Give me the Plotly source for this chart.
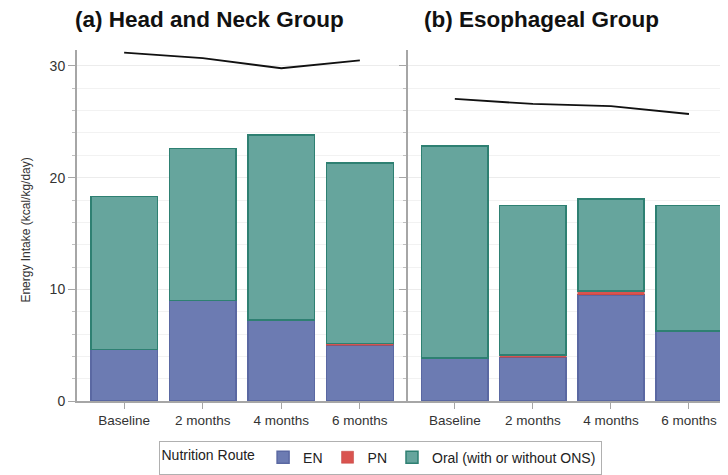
import plotly.graph_objects as go

categories = ["Baseline", "2 months", "4 months", "6 months"]

# (a) Head and Neck Group
hn_en = [4.6, 9.0, 7.25, 5.0]
hn_pn = [0.0, 0.0, 0.0, 0.15]
hn_oral = [13.7, 13.6, 16.55, 16.15]
hn_line = [31.2, 30.7, 29.8, 30.5]

# (b) Esophageal Group
es_en = [3.8, 3.9, 9.5, 6.25]
es_pn = [0.05, 0.22, 0.35, 0.0]
es_oral = [19.0, 13.38, 8.25, 11.25]
es_line = [27.05, 26.6, 26.4, 25.7]

EN_C, EN_L = "#6c7bb2", "#5a68a2"
PN_C, PN_L = "#d9534f", "#c0403c"
OR_C, OR_L = "#66a59d", "#2e8072"
FONT = "Liberation Sans, Arial, sans-serif"

fig = go.Figure()

def add_panel(en, pn, oral, line, xa, ya, show):
    fig.add_trace(go.Bar(x=categories, y=en, name="EN", marker=dict(color=EN_C, line=dict(color=EN_L, width=1.5)),
                         width=0.85, xaxis=xa, yaxis=ya, showlegend=show, legendgroup="EN"))
    fig.add_trace(go.Bar(x=categories, y=pn, name="PN", marker=dict(color=PN_C, line=dict(color=PN_L, width=0.5)),
                         width=0.85, xaxis=xa, yaxis=ya, showlegend=show, legendgroup="PN"))
    fig.add_trace(go.Bar(x=categories, y=oral, name="Oral (with or without ONS)",
                         marker=dict(color=OR_C, line=dict(color=OR_L, width=1.5)),
                         width=0.85, xaxis=xa, yaxis=ya, showlegend=show, legendgroup="OR"))
    fig.add_trace(go.Scatter(x=categories, y=line, mode="lines", line=dict(color="#111111", width=1.8),
                             xaxis=xa, yaxis=ya, showlegend=False, hoverinfo="skip"))

add_panel(hn_en, hn_pn, hn_oral, hn_line, "x", "y", True)
add_panel(es_en, es_pn, es_oral, es_line, "x2", "y2", False)

# page body has an 8px margin, so the figure is drawn at (8, 8)
W, H = 720, 467
ydom = [(H - 399) / H, (H - 43) / H]
xtickfont = dict(family=FONT, size=13.5, color="#333333")
ytickfont = dict(family=FONT, size=14, color="#333333")
xcommon = dict(type="category", showline=True, linecolor="#a6a6a6", linewidth=1.5,
               ticks="outside", ticklen=6, tickcolor="#a6a6a6", tickfont=xtickfont,
               showgrid=False, zeroline=False, automargin=False)
ycommon = dict(range=[0, 31.4], tickvals=[0, 10, 20, 30], showline=True, linecolor="#a6a6a6",
               linewidth=2, ticks="outside", ticklen=7, tickcolor="#a6a6a6", tickfont=ytickfont,
               showgrid=True, gridcolor="#ececec", gridwidth=1, zeroline=False, automargin=False,
               minor=dict(dtick=2, showgrid=True, gridcolor="#f2f2f2", ticks="outside", ticklen=3,
                          tickcolor="#c0c0c0"))

fig.update_layout(
    width=W, height=H,
    margin=dict(l=0, r=0, t=0, b=0),
    paper_bgcolor="white", plot_bgcolor="white",
    barmode="stack",
    xaxis=dict(domain=[69 / W, 399 / W], range=[-0.6, 3.6], anchor="y", **xcommon),
    xaxis2=dict(domain=[400 / W, 1.0], range=[-0.6, 3.5], anchor="y2", **xcommon),
    yaxis=dict(domain=ydom, anchor="x", **ycommon),
    yaxis2=dict(domain=ydom, anchor="x2", matches="y", showticklabels=False, **ycommon),
    legend=dict(orientation="h", x=372 / W, y=(H - 456.5) / H, xanchor="center", yanchor="middle",
                bordercolor="#b0b0b0", borderwidth=1,
                font=dict(family=FONT, size=14, color="#222222"),
                title=dict(text="Nutrition Route", font=dict(family=FONT, size=14, color="#222222")),
                itemwidth=30, traceorder="normal"),
    annotations=[
        dict(text="<b>(a) Head and Neck Group</b>", x=201 / W, y=(H - 12) / H, xref="paper", yref="paper",
             showarrow=False, xanchor="center", yanchor="middle",
             font=dict(family=FONT, size=22.5, color="#111111")),
        dict(text="<b>(b) Esophageal Group</b>", x=533 / W, y=(H - 12) / H, xref="paper", yref="paper",
             showarrow=False, xanchor="center", yanchor="middle",
             font=dict(family=FONT, size=22.5, color="#111111")),
        dict(text="Energy Intake (kcal/kg/day)", x=18 / W, y=(H - 226) / H, xref="paper", yref="paper",
             showarrow=False, xanchor="center", yanchor="middle", textangle=-90,
             font=dict(family=FONT, size=12, color="#333333")),
    ],
)

fig.write_html("out.html")
